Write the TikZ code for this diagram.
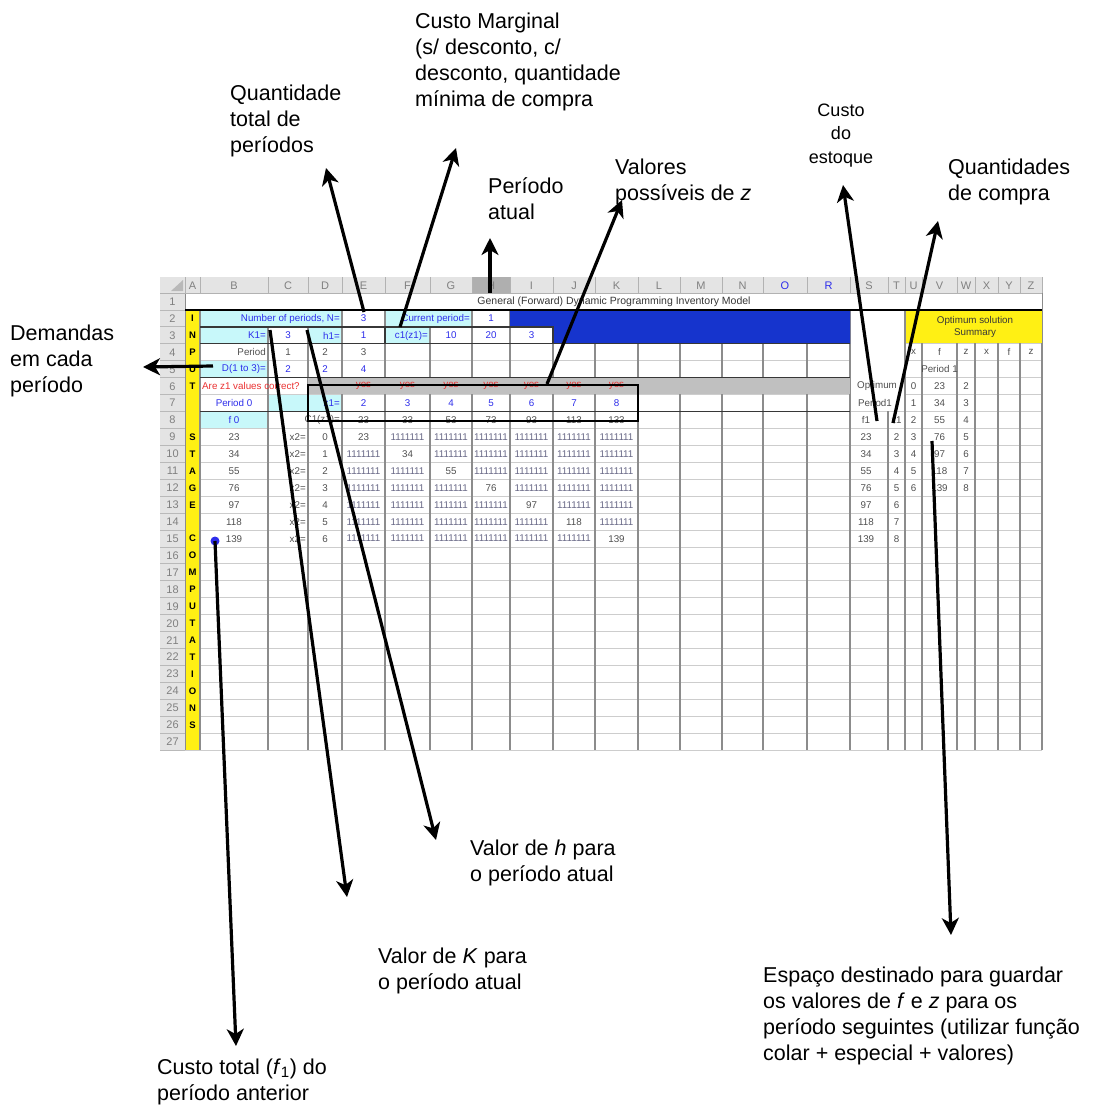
\documentclass[tikz,border=0pt]{standalone}
\usepackage{fontspec}
\setmainfont{Liberation Sans}
\usetikzlibrary{arrows.meta}
\definecolor{cyanc}{RGB}{200,248,250}
\definecolor{bluef}{RGB}{22,52,205}
\definecolor{yel}{RGB}{255,240,20}
\definecolor{rowg}{RGB}{192,192,192}
\definecolor{hdrg}{RGB}{228,228,228}
\definecolor{hdrd}{RGB}{175,175,175}
\definecolor{btxt}{RGB}{45,45,235}
\definecolor{rtxt}{RGB}{235,50,50}
\definecolor{gtxt}{RGB}{80,80,80}
\definecolor{onestxt}{RGB}{105,105,135}
\definecolor{gridh}{RGB}{205,205,205}
\definecolor{gridv}{RGB}{140,140,140}
\definecolor{darkb}{RGB}{55,55,55}
\newcommand\ry[1]{(293+16.93*((#1)-1))}
\newcommand\cellC[6][]{\node[cell,#1] (#2) at ({(#3+#4)/2},{\ry{#5}+8.6}) {#6};}
\newcommand\cellR[5][]{\node[cell,anchor=east,#1] (#2) at ({#3-2},{\ry{#4}+8.6}) {#5};}
\newcommand\cellL[5][]{\node[cell,anchor=west,#1] (#2) at ({#3+2},{\ry{#4}+8.6}) {#5};}
\tikzset{
  cell/.style={inner sep=0pt, font=\fontsize{9.8}{10}\selectfont, text=gtxt},
  bt/.style={text=btxt},
  rt/.style={text=rtxt},
  hdr/.style={inner sep=0pt, font=\fontsize{11}{12}\selectfont, text=gray},
  note/.style={inner sep=0pt, anchor=base west, align=left, font=\fontsize{21.5}{26}\selectfont},
  notesmall/.style={inner sep=0pt, anchor=base, align=center, font=\fontsize{18}{23.5}\selectfont},
  arr/.style={line width=3.2pt, -{Stealth[length=17pt,width=17pt,inset=5pt]}},
  gh/.style={draw=gridh, line width=0.8pt},
  gv/.style={draw=gridv, line width=1.3pt},
  dk/.style={draw=darkb, line width=1.3pt},
}
\begin{document}
\begin{tikzpicture}[x=1pt,y=-1pt]
\useasboundingbox (0,0) rectangle (1098,1106);
\fill[white] (0,0) rectangle (1098,1106);

% ---------- grid ----------
\foreach \r in {0,...,27}{
  \draw[gh] (185,{293+16.93*\r}) -- (1042,{293+16.93*\r});
}
\foreach \xv in {185,200,268,308,342,385,430,472,510,553,595,638,680,722,763,807,850,888,905,922,957,975,998,1020,1042}{
  \draw[gv] (\xv,293) -- (\xv,750);
}

% ---------- fills ----------
\fill[yel] (185.7,{\ry{2}}) rectangle (199.3,750);
\fill[cyanc] (200.7,{\ry{2}+0.7}) rectangle (341.3,{\ry{3}-0.7});
\fill[cyanc] (385.7,{\ry{2}+0.7}) rectangle (471.3,{\ry{3}-0.7});
\fill[cyanc] (200.7,{\ry{3}+0.7}) rectangle (267.3,{\ry{4}-0.7});
\fill[cyanc] (308.7,{\ry{3}+0.7}) rectangle (341.3,{\ry{4}-0.7});
\fill[cyanc] (385.7,{\ry{3}+0.7}) rectangle (429.3,{\ry{4}-0.7});
\fill[cyanc] (200.7,{\ry{5}+0.7}) rectangle (267.3,{\ry{6}-0.7});
\fill[cyanc] (268.7,{\ry{7}+0.7}) rectangle (341.3,{\ry{8}-0.7});
\fill[cyanc] (200.7,{\ry{8}+0.7}) rectangle (267.3,{\ry{9}-0.7});
\fill[rowg] (308,{\ry{6}+0.5}) rectangle (850,{\ry{7}-0.5});
\fill[bluef] (510,{\ry{2}}) -- (850,{\ry{2}}) -- (850,{\ry{4}}) -- (553,{\ry{4}}) -- (553,{\ry{3}}) -- (510,{\ry{3}}) -- cycle;
\fill[white] (850.7,{\ry{2}+0.7}) rectangle (904.3,{\ry{8}-0.7});
\fill[yel] (905.7,{\ry{2}+0.7}) rectangle (1042,{\ry{4}-0.7});
\fill[white] (186,{\ry{1}+0.5}) rectangle (1042,{\ry{2}-0.7});

% ---------- headers ----------
\fill[hdrg] (160,277) rectangle (1042,293);
\fill[hdrg] (160,293) rectangle (185,750);
\fill[hdrd] (472,277) rectangle (510,293);
\fill[gray!55] (171,291) -- (183,291) -- (183,280) -- cycle;
\foreach \xv in {185,200,268,308,342,385,430,472,510,553,595,638,680,722,763,807,850,888,905,922,957,975,998,1020,1042}{
  \draw[draw=gray!60, line width=0.8pt] (\xv,277) -- (\xv,293);
}
\draw[draw=gray!60, line width=0.8pt] (160,293) -- (1042,293);
\foreach \r in {1,...,27}{
  \draw[draw=gray!55, line width=0.8pt] (160,{\ry{\r}+16.93}) -- (185,{\ry{\r}+16.93});
  \node[hdr] (rn\r) at (172.5,{\ry{\r}+8.6}) {\r};
}
\foreach \l/\xc in {A/192.5,B/234,C/288,D/325,E/363.5,F/407.5,G/451,H/491,I/531.5,J/574,K/616.5,L/659,M/701,N/742.5,S/869,T/896.5,U/913.5,V/939.5,W/966,X/986.5,Y/1009,Z/1031}{
  \node[hdr] (hc\l) at (\xc,285.5) {\l};
}
\node[hdr,text=btxt] (hcO) at (785,285.5) {O};
\node[hdr,text=btxt] (hcR) at (828.5,285.5) {R};

% ---------- column A labels ----------
\foreach \r/\l in {2/I,3/N,4/P,5/U,6/T,9/S,10/T,11/A,12/G,13/E,15/C,16/O,17/M,18/P,19/U,20/T,21/A,22/T,23/I,24/O,25/N,26/S}{
  \node[cell,text=black,font=\fontsize{9.5}{10}\selectfont\bfseries] (A\r) at (192.5,{\ry{\r}+8.6}) {\l};
}

% ---------- row 1 ----------
\node[cell,text=darkb,font=\fontsize{10.5}{11}\selectfont] (title) at (614,{\ry{1}+8.6}) {General (Forward) Dynamic Programming Inventory Model};

% ---------- rows 2-8 ----------
\cellR[bt]{B2}{342}{2}{Number of periods, N=}
\cellC[bt]{E2}{342}{385}{2}{3}
\cellR[bt]{F2}{472}{2}{Current period=}
\cellC[bt]{H2}{472}{510}{2}{1}
\cellR[bt]{B3}{268}{3}{K1=}
\cellC[bt]{C3}{268}{308}{3}{3}
\cellR[bt]{D3}{342}{3}{h1=}
\cellC[bt]{E3}{342}{385}{3}{1}
\cellR[bt]{F3}{430}{3}{c1(z1)=}
\cellC[bt]{G3}{430}{472}{3}{10}
\cellC[bt]{H3}{472}{510}{3}{20}
\cellC[bt]{I3}{510}{553}{3}{3}
\cellR{B4}{268}{4}{Period}
\cellC{C4}{268}{308}{4}{1}
\cellC{D4}{308}{342}{4}{2}
\cellC{E4}{342}{385}{4}{3}
\cellR[bt]{B5}{268}{5}{D(1 to 3)=}
\cellC[bt]{C5}{268}{308}{5}{2}
\cellC[bt]{D5}{308}{342}{5}{2}
\cellC[bt]{E5}{342}{385}{5}{4}
\cellL[rt]{B6}{200}{6}{Are z1 values correct?}
\cellC[bt]{B7}{200}{268}{7}{Period 0}
\cellR[bt]{D7}{342}{7}{z1=}
\cellC[bt]{B8}{200}{268}{8}{f 0}
\cellR{D8}{342}{8}{C1(z1)=}
\foreach \xa/\xb/\zv/\cv [count=\j from 0] in {342/385/2/23,385/430/3/33,430/472/4/53,472/510/5/73,510/553/6/93,553/595/7/113,595/638/8/133}{
  \cellC[rt]{y\j}{\xa}{\xb}{6}{yes}
  \cellC[bt]{z\j}{\xa}{\xb}{7}{\zv}
  \cellC{c\j}{\xa}{\xb}{8}{\cv}
}

% ---------- rows 9-15 ----------
\foreach \r/\v [count=\i from 0] in {9/23,10/34,11/55,12/76,13/97,14/118,15/139}{
  \cellC{B\r}{200}{268}{\r}{\v}
  \cellR{C\r}{308}{\r}{x2=}
  \cellC{D\r}{308}{342}{\r}{\i}
  \foreach \xa/\xb [count=\j from 0] in {342/385,385/430,430/472,472/510,510/553,553/595,595/638}{
    \ifnum\i=\j
      \cellC{m\r-\j}{\xa}{\xb}{\r}{\v}
    \else
      \cellC[text=onestxt]{m\r-\j}{\xa}{\xb}{\r}{1111111}
    \fi
  }
  \cellC{S\r}{850}{882}{\r}{\v}
  \cellC{T\r}{888}{905}{\r}{\the\numexpr\i+2\relax}
  \pgfmathtruncatemacro{\rr}{\r-3}
  \cellC{U\r}{905}{922}{\rr}{\i}
  \cellC{V\r}{922}{957}{\rr}{\v}
  \cellC{W\r}{957}{975}{\rr}{\the\numexpr\i+2\relax}
}

% ---------- right block ----------
\node[cell] (S6) at (877,{\ry{6}+8.6}) {Optimum};
\node[cell] (S7) at (875,{\ry{7}+8.6}) {Period1};
\cellC{S8}{850}{882}{8}{f1}
\cellC{T8}{888}{905}{8}{z1}
\node[cell,text=darkb,align=center,font=\fontsize{9.8}{12.5}\selectfont] (opt) at (975,{\ry{3}}) {Optimum solution\\Summary};
\foreach \l/\xc in {x/913.5,f/939.5,z/966,x/986.5,f/1009,z/1031}{
  \node[cell] (hd\xc) at (\xc,{\ry{4}+8.6}) {\l};
}
\cellC{P1}{922}{957}{5}{Period 1}

% ---------- dark borders ----------
\draw[draw=black, line width=1.8pt] (185,{\ry{2}}) -- (1042,{\ry{2}});
\draw[dk] (200,{\ry{3}}) -- (510,{\ry{3}});
\draw[dk] (200,{\ry{4}}) -- (850,{\ry{4}});
\draw[dk] (200,{\ry{6}}) -- (850,{\ry{6}});
\draw[dk] (200,{\ry{8}}) -- (850,{\ry{8}});
\draw[dk] (385,{\ry{3}}) rectangle (553,{\ry{4}});
\draw[draw=black, line width=2.6pt] (308,385) rectangle (638,421);

% ---------- annotations (base = last line) ----------
\node[note] (nQ) at (230,152) {Quantidade\\total de\\períodos};
\node[note] (nCM) at (415,106) {Custo Marginal\\(s/ desconto, c/\\desconto, quantidade\\mínima de compra};
\node[note] (nP) at (488,219) {Período\\atual};
\node[note] (nV) at (615,200) {Valores\\possíveis de \textit{z}};
\node[notesmall] (nCE) at (841,163) {Custo\\do\\estoque};
\node[note] (nQC) at (948,200) {Quantidades\\de compra};
\node[note] (nD) at (10,392) {Demandas\\em cada\\período};
\node[note] (nH) at (470,881) {Valor de \textit{h} para\\o período atual};
\node[note] (nK) at (378,989) {Valor de \textit{K} para\\o período atual};
\node[note] (nF) at (157,1100) {Custo total (\textit{f}\textsubscript{1}) do\\período anterior};
\node[note] (nE) at (763,1060) {Espaço destinado para guardar\\os valores de \textit{f} e \textit{z} para os\\período seguintes (utilizar função\\colar + especial + valores)};

\node[circle, fill=btxt, minimum size=9pt, inner sep=0pt] (dot) at (215,541) {};

\coordinate (q1) at (364,312);  \coordinate (q2) at (326,168);
\coordinate (m1) at (400,327);  \coordinate (m2) at (456,148);
\coordinate (p1) at (490,293);  \coordinate (p2) at (490,238);
\coordinate (v1) at (547,384);  \coordinate (v2) at (622,200);
\coordinate (e1) at (877,421);  \coordinate (e2) at (843,185);
\coordinate (c1) at (893,423);  \coordinate (c2) at (938,221);
\coordinate (d1) at (213,366);  \coordinate (d2) at (143,367);
\coordinate (k1) at (270,330);  \coordinate (k2) at (347,897);
\coordinate (h1) at (307,330);  \coordinate (h2) at (436,840);
\coordinate (f2) at (236,1046);
\coordinate (s1) at (932,441);  \coordinate (s2) at (951,935);

\draw[arr] (q1) -- (q2);
\draw[arr] (m1) -- (m2);
\draw[arr] (p1) -- (p2);
\draw[arr] (v1) -- (v2);
\draw[arr] (e1) -- (e2);
\draw[arr] (c1) -- (c2);
\draw[arr] (d1) -- (d2);
\draw[arr] (k1) -- (k2);
\draw[arr] (h1) -- (h2);
\draw[arr] (dot.center) -- (f2);
\draw[arr] (s1) -- (s2);
\end{tikzpicture}
\end{document}
